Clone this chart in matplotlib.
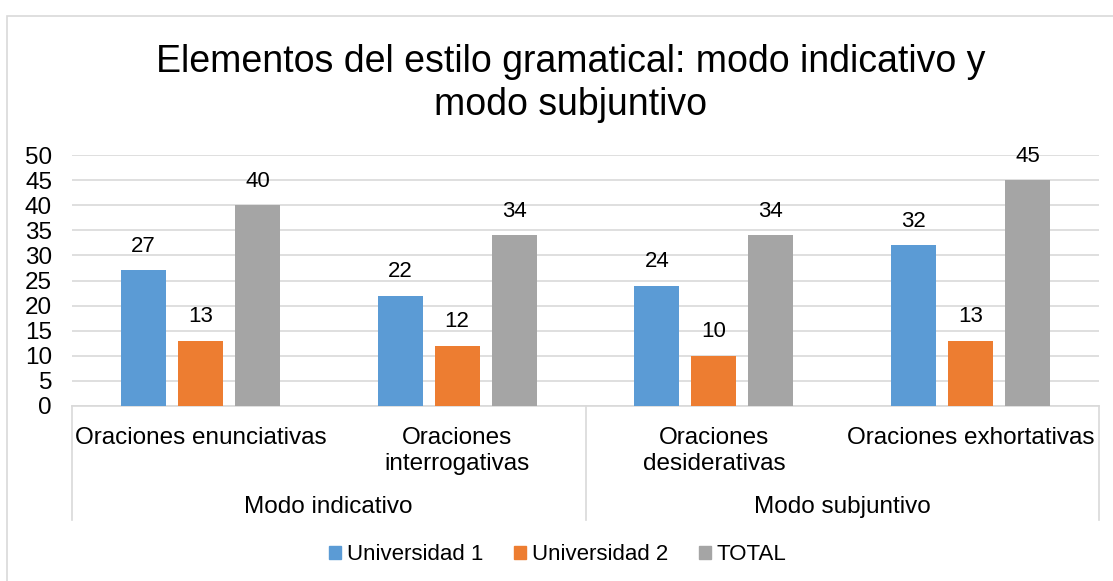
import matplotlib.pyplot as plt
from matplotlib.patches import Patch, Rectangle
from matplotlib.lines import Line2D
import numpy as np

plt.rcParams['font.family'] = ['Liberation Sans', 'DejaVu Sans']

categories = ["Oraciones enunciativas", "Oraciones\ninterrogativas",
              "Oraciones\ndesiderativas", "Oraciones exhortativas"]
groups = ["Modo indicativo", "Modo subjuntivo"]
series = ["Universidad 1", "Universidad 2", "TOTAL"]
uni1 = [27, 22, 24, 32]
uni2 = [13, 12, 10, 13]
total = [40, 34, 34, 45]
colors = ["#5B9BD5", "#ED7D31", "#A5A5A5"]
title_lines = ["Elementos del estilo gramatical: modo indicativo y", "modo subjuntivo"]

W, H = 1113, 581
fig = plt.figure(figsize=(W / 100, H / 100), dpi=100)

# light chart border
fig.add_artist(Rectangle((7 / W, -0.1), 1.2, 1 - 16 / H + 0.1, transform=fig.transFigure,
                         fill=False, edgecolor="#d9d9d9", linewidth=1.2))

left, right, y0, y50 = 72, 1099, 406, 155
ax = fig.add_axes([left / W, 1 - y0 / H, (right - left) / W, (y0 - y50) / H])

x = np.arange(len(categories))
step = 57 / 256.75
width = 45 / 256.75
for i, (vals, c) in enumerate(zip([uni1, uni2, total], colors)):
    bars = ax.bar(x + (i - 1) * step, vals, width, color=c, zorder=3)
    for b, v in zip(bars, vals):
        ax.annotate(str(v), (b.get_x() + b.get_width() / 2, v), xytext=(0, 24),
                    textcoords="offset pixels", ha="center", va="center", fontsize=16)

ax.set_xlim(-0.5, 3.5)
ax.set_ylim(0, 50)
ax.set_yticks(range(0, 51, 5))
ax.yaxis.grid(True, color="#d9d9d9", linewidth=1.2, zorder=0)
ax.tick_params(axis="y", length=0, labelsize=17.5, pad=14.4)
ax.set_xticks([])
for s in ["top", "right", "left"]:
    ax.spines[s].set_visible(False)
ax.spines["bottom"].set_color("#d9d9d9")
ax.spines["bottom"].set_linewidth(1.2)

tr = ax.get_xaxis_transform()
hpx = y0 - y50


def below(py):
    # pixel row -> axes fraction under the baseline
    return -(py - y0) / hpx


for i, lab in enumerate(categories):
    for k, line in enumerate(lab.split("\n")):
        ax.text(i, below(444 + 26 * k), line, transform=tr,
                ha="center", va="baseline", fontsize=17.5)
for j, g in enumerate(groups):
    ax.text(0.5 + 2 * j, below(513), g, transform=tr,
            ha="center", va="baseline", fontsize=17.5)
for xs in [-0.5, 1.5, 3.5]:
    ax.add_line(Line2D([xs, xs], [0, below(520)], transform=tr, color="#d9d9d9",
                       linewidth=1.2, clip_on=False))

for k, line in enumerate(title_lines):
    fig.text(571 / W, 1 - (72 + 43 * k) / H, line, ha="center", va="baseline", fontsize=27)

handles = [Patch(color=c, label=s) for c, s in zip(colors, series)]
fig.legend(handles=handles, loc="center", bbox_to_anchor=(558 / W, 1 - 555 / H), ncol=3,
           frameon=False, fontsize=16, handlelength=0.55, handleheight=0.55,
           handletextpad=0.27, columnspacing=1.36, borderpad=0)

fig.savefig("out.png", dpi=100)
